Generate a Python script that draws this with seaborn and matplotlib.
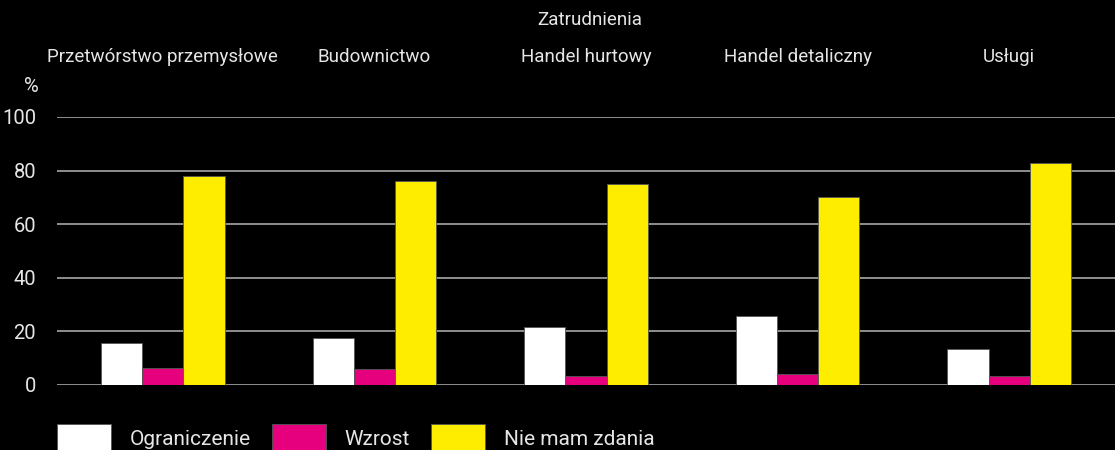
import matplotlib
matplotlib.use("Agg")
import matplotlib.pyplot as plt
import seaborn as sns
import pandas as pd

categories = ["Przetwórstwo przemysłowe", "Budownictwo", "Handel hurtowy", "Handel detaliczny", "Usługi"]
ograniczenie = [15.6, 17.7, 21.6, 25.6, 13.5]
wzrost = [6.5, 6.0, 3.4, 4.1, 3.4]
nie_mam_zdania = [78.1, 76.2, 75.0, 70.3, 83.0]
series_names = ["Ograniczenie", "Wzrost", "Nie mam zdania"]
colors = ["#ffffff", "#e6007e", "#ffed00"]
yticks = [0, 20, 40, 60, 80, 100]
title = "Zatrudnienia"
unit = "%"

rows = []
for name, vals in zip(series_names, [ograniczenie, wzrost, nie_mam_zdania]):
    for c, v in zip(categories, vals):
        rows.append({"cat": c, "series": name, "val": v})
df = pd.DataFrame(rows)

sns.set_theme(style="dark")
plt.rcParams["font.family"] = ["Roboto", "DejaVu Sans"]

fig = plt.figure(figsize=(11.15, 4.5), dpi=100, facecolor="black")
ax = fig.add_axes([57/1115, 65/450, 1058/1115, 268/450])
ax.set_facecolor("black")

sns.barplot(data=df, x="cat", y="val", hue="series", order=categories,
            hue_order=series_names, palette=colors, width=0.585, saturation=1,
            edgecolor="#555555", linewidth=0.6, ax=ax, legend=True)

ax.set_ylim(0, 100)
ax.set_xlim(-0.5, len(categories) - 0.5)
ax.set_yticks(yticks)
ax.yaxis.grid(True, color="#9a9a9a", linewidth=1.3)
ax.xaxis.grid(False)
ax.set_axisbelow(True)
for s in ax.spines.values():
    s.set_visible(False)
ax.set_xlabel("")
ax.set_ylabel("")
ax.xaxis.set_ticks_position("top")
ax.tick_params(axis="x", length=0, pad=37, labelsize=13.5, labelcolor="#e6e6e6")
ax.tick_params(axis="y", length=0, pad=15, labelsize=14.5, labelcolor="#e6e6e6")

fig.text(590/1115, 1 - 20/450, title, ha="center", va="center", fontsize=13.5, color="#e6e6e6")
fig.text(31/1115, 1 - 86/450, unit, ha="center", va="center", fontsize=14.5, color="#e6e6e6")

handles, labels = ax.get_legend_handles_labels()
ax.get_legend().remove()
leg = fig.legend(handles, labels, loc="upper left", bbox_to_anchor=(57/1115, 26/450),
                 ncol=3, frameon=False, fontsize=15, handlelength=2.6, handleheight=1.65,
                 handletextpad=0.9, columnspacing=1.0, borderpad=0, borderaxespad=0)
for t in leg.get_texts():
    t.set_color("#e6e6e6")

fig.savefig("out.png", dpi=100, facecolor="black")
